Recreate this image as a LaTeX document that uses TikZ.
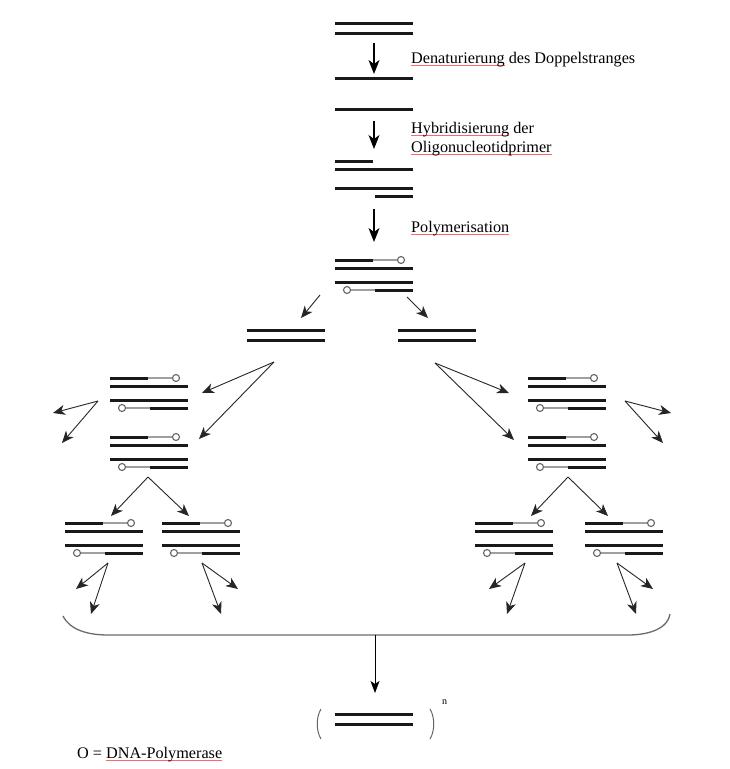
\documentclass[tikz,border=0pt]{standalone}
\usepackage{fontspec}
\setmainfont{Liberation Serif}
\usetikzlibrary{arrows.meta}
\newcommand\redul[1]{\setbox0=\hbox{#1}\rlap{\color{red!60}\rule[-2.5pt]{\wd0}{0.6pt}}\box0\relax}
\tikzset{
  strand/.style={line width=3pt, black!90},
  ext/.style={line width=1.1pt, gray!75},
  pol/.style={line width=1.1pt, draw=gray!80!black, fill=white},
  bigarr/.style={line width=1.1pt, -{Stealth[length=14pt,width=11pt,inset=4pt]}},
  diagarr/.style={line width=0.9pt, black!85, -{Stealth[length=12pt,width=10pt,inset=3.5pt]}},
  lbl/.style={anchor=base west, inner sep=0pt, font=\fontsize{16.2}{19}\selectfont},
}
% polymerised double-double strand block: left x, top y
\newcommand\pblock[2]{%
  \draw[strand] (#1,#2) -- ({#1+38},#2);
  \draw[ext] ({#1+38},#2) -- ({#1+62.5},#2);
  \draw[pol] ({#1+66},#2) circle (3.5);
  \draw[strand] (#1,{#2+8}) -- ({#1+78},{#2+8});
  \draw[strand] (#1,{#2+22}) -- ({#1+78},{#2+22});
  \draw[ext] ({#1+15.5},{#2+30}) -- ({#1+40},{#2+30});
  \draw[strand] ({#1+40},{#2+30}) -- ({#1+78},{#2+30});
  \draw[pol] ({#1+12},{#2+30}) circle (3.5);
}
\newcommand\dstrand[2]{%
  \draw[strand] (#1,#2) -- ({#1+78},#2);
  \draw[strand] (#1,{#2+10}) -- ({#1+78},{#2+10});
}
\begin{document}
\begin{tikzpicture}[x=1pt,y=-1pt]
\useasboundingbox[fill=white] (0,0) rectangle (729,769);

% ---------- top stages ----------
\dstrand{335}{23}
\coordinate (d1s) at (374,43); \coordinate (d1e) at (374,74);
\draw[bigarr] (d1s) -- (d1e);
\node[lbl] (t1) at (411,63) {\redul{Denaturierung} des Doppelstranges};
\draw[strand] (335,78) -- (413,78);

\draw[strand] (335,109) -- (413,109);
\coordinate (d2s) at (374,121); \coordinate (d2e) at (374,149);
\draw[bigarr] (d2s) -- (d2e);
\node[lbl] (t2) at (411,133) {\redul{Hybridisierung} der};
\node[lbl] (t3) at (411,152) {\redul{Oligonucleotidprimer}};
\draw[strand] (335,161) -- (373,161);
\draw[strand] (335,169) -- (413,169);
\draw[strand] (335,188) -- (413,188);
\draw[strand] (375,196) -- (413,196);

\coordinate (d3s) at (374,209); \coordinate (d3e) at (374,242);
\draw[bigarr] (d3s) -- (d3e);
\node[lbl] (t4) at (411,232) {\redul{Polymerisation}};

\pblock{335}{260}

% ---------- split ----------
\coordinate (p1s) at (320,295); \coordinate (p1e) at (301,318);
\coordinate (p2s) at (407,297); \coordinate (p2e) at (428,318);
\draw[diagarr] (p1s) -- (p1e);
\draw[diagarr] (p2s) -- (p2e);
\dstrand{247}{330}
\dstrand{398}{330}

% ---------- left branch ----------
\coordinate (lA) at (274,362);
\coordinate (lAe) at (202,393);
\coordinate (lBe) at (199,439);
\draw[diagarr] (lA) -- (lAe);
\draw[diagarr] (lA) -- (lBe);
\pblock{110}{378}
\pblock{110}{437}
\coordinate (lo) at (98,401);
\coordinate (lo1) at (53,413);
\coordinate (lo2) at (62,443);
\draw[diagarr] (lo) -- (lo1);
\draw[diagarr] (lo) -- (lo2);

\coordinate (lv) at (148,477);
\coordinate (lv1) at (111,516);
\coordinate (lv2) at (189,516);
\draw[diagarr] (lv) -- (lv1);
\draw[diagarr] (lv) -- (lv2);
\pblock{65}{523}
\pblock{162}{523}
\coordinate (lc) at (108,563);
\coordinate (lc1) at (76,589);
\coordinate (lc2) at (91,614);
\draw[diagarr] (lc) -- (lc1);
\draw[diagarr] (lc) -- (lc2);
\coordinate (ld) at (202,563);
\coordinate (ld1) at (238,589);
\coordinate (ld2) at (221,614);
\draw[diagarr] (ld) -- (ld1);
\draw[diagarr] (ld) -- (ld2);

% ---------- right branch ----------
\coordinate (rA) at (435,363);
\coordinate (rAe) at (509,393);
\coordinate (rBe) at (514,440);
\draw[diagarr] (rA) -- (rAe);
\draw[diagarr] (rA) -- (rBe);
\pblock{528}{378}
\pblock{528}{437}
\coordinate (ro) at (625,401);
\coordinate (ro1) at (671,413);
\coordinate (ro2) at (663,443);
\draw[diagarr] (ro) -- (ro1);
\draw[diagarr] (ro) -- (ro2);

\coordinate (rv) at (568,477);
\coordinate (rv1) at (531,516);
\coordinate (rv2) at (608,516);
\draw[diagarr] (rv) -- (rv1);
\draw[diagarr] (rv) -- (rv2);
\pblock{475}{523}
\pblock{585}{523}
\coordinate (rg) at (525,563);
\coordinate (rg1) at (489,589);
\coordinate (rg2) at (507,614);
\draw[diagarr] (rg) -- (rg1);
\draw[diagarr] (rg) -- (rg2);
\coordinate (rh) at (617,563);
\coordinate (rh1) at (653,589);
\coordinate (rh2) at (636,614);
\draw[diagarr] (rh) -- (rh1);
\draw[diagarr] (rh) -- (rh2);

% ---------- brace and result ----------
\coordinate (bl) at (63,616);
\coordinate (br) at (670,614);
\coordinate (bm) at (375,635);
\draw[line width=1.3pt, gray!85!black] (bl) .. controls (70,630) and (88,635) .. (108,635)
   -- (628,635) .. controls (650,635) and (668,628) .. (br);
\coordinate (res) at (375,693);
\draw[line width=1pt, -{Stealth[length=12pt,width=9pt,inset=3pt]}] (bm) -- (res);

\draw[line width=1pt, gray!80!black] (321,709) .. controls (316,717) and (316,731) .. (321,739);
\draw[line width=1pt, gray!80!black] (430,709) .. controls (435,717) and (435,731) .. (430,739);
\dstrand{335}{714}
\node[anchor=base west, inner sep=0pt, font=\fontsize{10}{12}\selectfont] (nn) at (442,704) {n};

\node[lbl] (leg) at (77,758) {O = \redul{DNA-Polymerase}};
\end{tikzpicture}
\end{document}
